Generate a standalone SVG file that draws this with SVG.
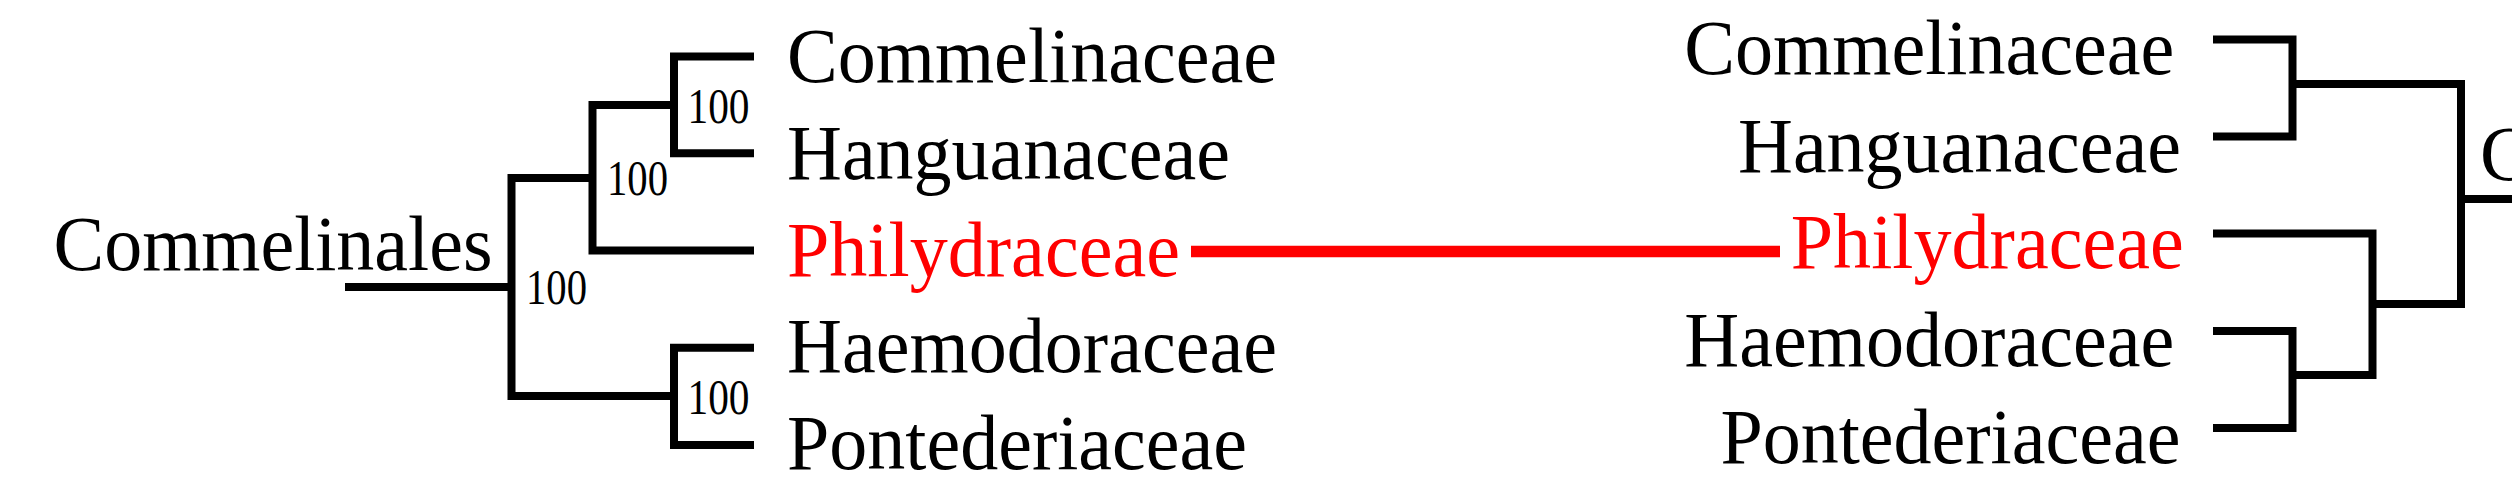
<svg xmlns="http://www.w3.org/2000/svg" width="2512" height="500" viewBox="0 0 2512 500">
  <style>
    .lbl { font-family: "Liberation Serif", "Times New Roman", serif; font-size: 79px; fill: #000; }
    .red { fill: #ff0000; }
    .bs { font-family: "Liberation Serif", "Times New Roman", serif; font-size: 50px; fill: #000; }
    .br { fill: none; stroke: #000; stroke-width: 8; stroke-linejoin: miter; stroke-linecap: butt; }
    .link { fill: none; stroke: #ff0000; stroke-width: 11.5; stroke-linecap: butt; }
  </style>
  <rect x="0" y="0" width="2512" height="500" fill="#ffffff"/>

  <g id="connectors">
    <!-- left tree -->
    <path class="br" d="M345 287 H511.5"/>
    <path class="br" d="M592.5 178 H511.5 V396 H674"/>
    <path class="br" d="M674 105 H592.5 V250.5 H754"/>
    <path class="br" d="M754 56.5 H674 V153.3 H754"/>
    <path class="br" d="M754 347.8 H674 V445 H754"/>
    <!-- right tree -->
    <path class="br" d="M2213 39.5 H2292.5 V136.5 H2213"/>
    <path class="br" d="M2292.5 84 H2461 V304 H2372.5"/>
    <path class="br" d="M2461 199 H2512"/>
    <path class="br" d="M2213 233.5 H2372.5 V375 H2292.5"/>
    <path class="br" d="M2213 331 H2292.5 V428 H2213"/>
    <!-- link between trees -->
    <path class="link" d="M1191 251.5 H1780"/>
  </g>

  <g id="left-root"><text class="lbl" x="53.5" y="270" textLength="439" lengthAdjust="spacingAndGlyphs">Commelinales</text></g>
  <g id="left-bs-root"><text class="bs" x="526" y="304" textLength="61" lengthAdjust="spacingAndGlyphs">100</text></g>
  <g id="left-bs-a"><text class="bs" x="607" y="195" textLength="61" lengthAdjust="spacingAndGlyphs">100</text></g>
  <g id="left-bs-b"><text class="bs" x="687.5" y="122.7" textLength="62" lengthAdjust="spacingAndGlyphs">100</text></g>
  <g id="left-bs-c"><text class="bs" x="687.5" y="414.3" textLength="62" lengthAdjust="spacingAndGlyphs">100</text></g>

  <g id="left-commelinaceae"><text class="lbl" x="787" y="82" textLength="490" lengthAdjust="spacingAndGlyphs">Commelinaceae</text></g>
  <g id="left-hanguanaceae"><text class="lbl" x="787" y="179" textLength="443" lengthAdjust="spacingAndGlyphs">Hanguanaceae</text></g>
  <g id="left-philydraceae"><text class="lbl red" x="787" y="275.5" textLength="393" lengthAdjust="spacingAndGlyphs">Philydraceae</text></g>
  <g id="left-haemodoraceae"><text class="lbl" x="787" y="372" textLength="490" lengthAdjust="spacingAndGlyphs">Haemodoraceae</text></g>
  <g id="left-pontederiaceae"><text class="lbl" x="787" y="469" textLength="460" lengthAdjust="spacingAndGlyphs">Pontederiaceae</text></g>

  <g id="right-commelinaceae"><text class="lbl" x="1684.3" y="74" textLength="490" lengthAdjust="spacingAndGlyphs">Commelinaceae</text></g>
  <g id="right-hanguanaceae"><text class="lbl" x="1738" y="171.7" textLength="443" lengthAdjust="spacingAndGlyphs">Hanguanaceae</text></g>
  <g id="right-philydraceae"><text class="lbl red" x="1790.8" y="268.3" textLength="393" lengthAdjust="spacingAndGlyphs">Philydraceae</text></g>
  <g id="right-haemodoraceae"><text class="lbl" x="1684.3" y="366" textLength="490" lengthAdjust="spacingAndGlyphs">Haemodoraceae</text></g>
  <g id="right-pontederiaceae"><text class="lbl" x="1720.4" y="462.7" textLength="460" lengthAdjust="spacingAndGlyphs">Pontederiaceae</text></g>

  <g id="right-root"><text class="lbl" x="2480" y="180" textLength="51" lengthAdjust="spacingAndGlyphs">C</text></g>
</svg>
